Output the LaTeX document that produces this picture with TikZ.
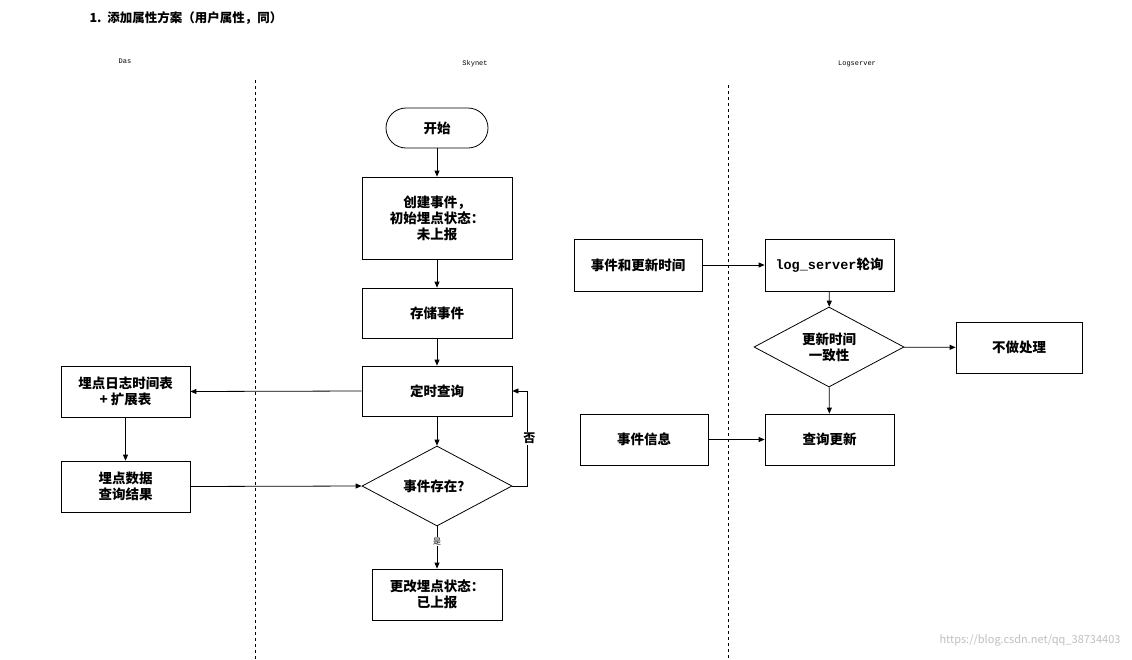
\documentclass[tikz,border=0pt]{standalone}
\usepackage{fontspec}
\setmainfont{Noto Sans CJK SC}
\setmonofont{Liberation Mono}
\usetikzlibrary{shapes.geometric,arrows.meta}
\begin{document}
\begin{tikzpicture}[x=1pt,y=-1pt,
  box/.style={draw,thick,minimum width=#1,align=center,font=\fontsize{13.5}{16}\selectfont\bfseries,inner sep=2pt},
  dia/.style={draw,thick,diamond,aspect=1.875,minimum width=150pt,minimum height=80pt,inner sep=0pt,align=center,font=\fontsize{13.5}{16}\selectfont\bfseries},
  arr/.style={-{Triangle[length=6pt,width=5pt]},thick},
  lab/.style={font=\ttfamily\fontsize{7}{8}\selectfont},
  sep/.style={dashed,thick}]
\useasboundingbox (0,0) rectangle (1132,659);
\node[anchor=west,font=\fontsize{12.5}{14}\selectfont\bfseries] (title) at (86,18) {1.\ \ 添加属性方案（用户属性，同）};
\node[lab] (l1) at (125,61) {Das};
\node[lab] (l2) at (475,64) {Skynet};
\node[lab] (l3) at (857,64) {Logserver};
\coordinate (d1a) at (255,80); \coordinate (d1b) at (255,659);
\coordinate (d2a) at (728,85); \coordinate (d2b) at (728,659);
\draw[sep] (d1a) -- (d1b);
\draw[sep] (d2a) -- (d2b);
% Skynet
\node[draw,thick,rounded corners=20pt,minimum width=102pt,minimum height=40pt,font=\fontsize{13.5}{16}\selectfont\bfseries] (start) at (437,128) {开始};
\node[box=150pt,minimum height=82pt] (create) at (437,218) {创建事件，\\初始埋点状态：\\未上报};
\node[box=150pt,minimum height=50pt] (store) at (437,313) {存储事件};
\node[box=150pt,minimum height=50pt] (query) at (437,391) {定时查询};
\node[dia] (exist) at (437,486) {事件存在？};
\node[box=130pt,minimum height=51pt] (change) at (437,594.5) {更改埋点状态：\\已上报};
\draw[arr] (start) -- (create);
\draw[arr] (create) -- (store);
\draw[arr] (store) -- (query);
\draw[arr] (query) -- (exist);
\draw[arr] (exist) -- node[fill=white,font=\fontsize{8}{9}\selectfont,pos=0.35,inner sep=1pt] {是} (change);
\coordinate (lp1) at (527,486); \coordinate (lp2) at (527,391);
\draw[arr] (exist.east) -- (lp1) -- node[right,font=\fontsize{12}{14}\selectfont\bfseries,pos=0.5,xshift=-5pt,fill=white,inner sep=1pt] {否} (lp2) -- (query.east);
% Das
\node[box=129pt,minimum height=51pt] (log) at (125.5,391.5) {埋点日志时间表\\+ 扩展表};
\node[box=129pt,minimum height=51pt] (data) at (125.5,486.5) {埋点数据\\查询结果};
\draw[arr] (query.west) -- (log.east);
\draw[arr] (log) -- (data);
\draw[arr] (data.east) -- (exist.west);
% Logserver
\node[box=128pt,minimum height=52pt] (evt) at (638,265) {事件和更新时间};
\node[box=129pt,minimum height=52pt] (poll) at (829.5,265) {\texttt{log\_server}轮询};
\node[dia] (same) at (829,347) {更新时间\\一致性};
\node[box=126pt,minimum height=51pt] (skip) at (1019,347.5) {不做处理};
\node[box=128pt,minimum height=51pt] (info) at (644,439.5) {事件信息};
\node[box=129pt,minimum height=51pt] (upd) at (829.5,439.5) {查询更新};
\draw[arr] (evt) -- (poll);
\draw[arr] (poll) -- (same);
\draw[arr] (same) -- (skip);
\draw[arr] (same) -- (upd);
\draw[arr] (info) -- (upd);
\node[text=gray!50,font=\fontsize{11}{13}\selectfont,anchor=east] (wm) at (1124,640) {https://blog.csdn.net/qq\_38734403};
\end{tikzpicture}
\end{document}
